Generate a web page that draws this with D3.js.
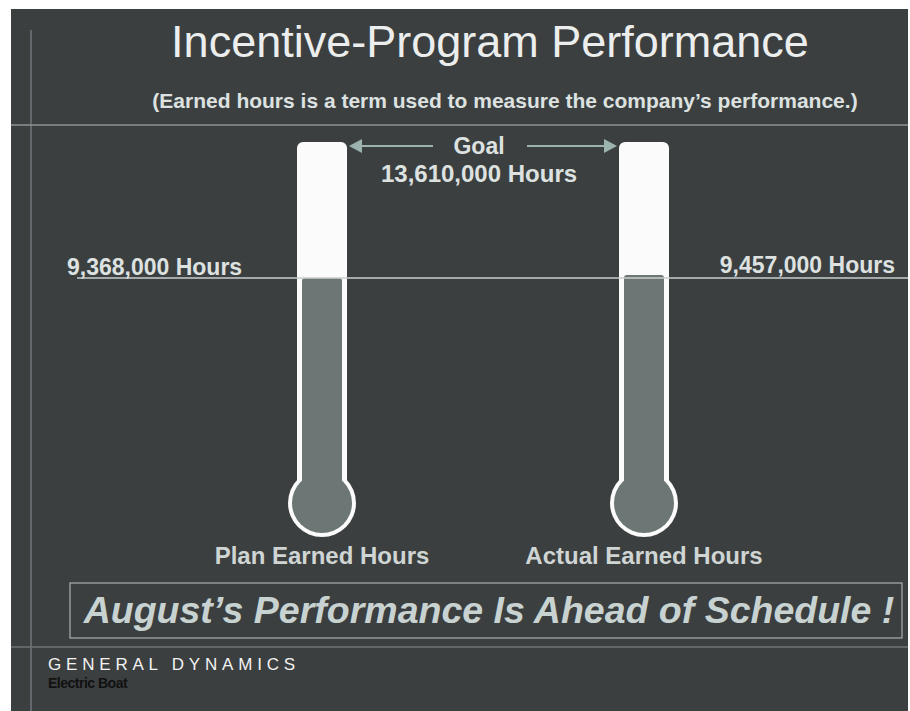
<!DOCTYPE html>
<html>
<head>
<meta charset="utf-8">
<script src="https://cdn.jsdelivr.net/npm/d3@7"></script>
<style>
  html, body { margin: 0; padding: 0; background: #fff; }
  text { font-family: "Liberation Sans", Arial, sans-serif; }
</style>
</head>
<body>
<svg id="chart" width="910" height="711"></svg>
<script>
// data
const categories = ["Plan Earned Hours", "Actual Earned Hours"];
const earnedHours = [9368000, 9457000];
const goalHours = 13610000;
const valueLabels = ["9,368,000 Hours", "9,457,000 Hours"];
const goalLabel = "13,610,000 Hours";

const svg = d3.select("#chart"),
    width = +svg.attr("width"),
    height = +svg.attr("height");

const txt = "#dde2e0";

// panel
svg.append("rect")
    .attr("x", 11).attr("y", 9)
    .attr("width", 897).attr("height", height - 9)
    .attr("fill", "#3b3f40");

// frame lines
svg.append("line").attr("x1", 31).attr("x2", 31).attr("y1", 30).attr("y2", height)
    .attr("stroke", "#70777a").attr("stroke-width", 1.5);
svg.append("line").attr("x1", 11).attr("x2", 908).attr("y1", 125).attr("y2", 125)
    .attr("stroke", "#8d9494").attr("stroke-width", 1.5);
svg.append("line").attr("x1", 11).attr("x2", 908).attr("y1", 647).attr("y2", 647)
    .attr("stroke", "#6f7677").attr("stroke-width", 1.5);

// titles
svg.append("text")
    .attr("x", 490).attr("y", 57)
    .attr("text-anchor", "middle")
    .attr("font-size", "45px")
    .attr("fill", "#eceeed")
    .text("Incentive-Program Performance");

svg.append("text")
    .attr("x", 505).attr("y", 108)
    .attr("text-anchor", "middle")
    .attr("font-size", "21px")
    .attr("font-weight", "bold")
    .attr("fill", txt)
    .text("(Earned hours is a term used to measure the company\u2019s performance.)");

// scales
const x = d3.scalePoint()
    .domain(categories)
    .range([322, 644]);

const y = d3.scaleLinear()
    .domain([0, goalHours])
    .range([578, 142]);

const tubeW = 50, bulbR = 34, bulbY = 503;

const therm = svg.selectAll(".therm")
    .data(categories.map((c, i) => ({ name: c, value: earnedHours[i] })))
    .enter().append("g")
    .attr("class", "therm")
    .attr("transform", d => "translate(" + x(d.name) + ",0)");

// white glass
therm.append("rect")
    .attr("x", -tubeW / 2).attr("y", y(goalHours))
    .attr("width", tubeW).attr("height", bulbY - y(goalHours))
    .attr("rx", 6)
    .attr("fill", "#fbfbfb");
therm.append("circle")
    .attr("cy", bulbY).attr("r", bulbR)
    .attr("fill", "#fbfbfb");

// mercury
therm.append("rect")
    .attr("x", -tubeW / 2 + 5).attr("y", d => y(d.value))
    .attr("width", tubeW - 10)
    .attr("height", d => bulbY - y(d.value))
    .attr("rx", 3)
    .attr("fill", "#6c7674");
therm.append("circle")
    .attr("cy", bulbY).attr("r", bulbR - 4)
    .attr("fill", "#6c7674");

// category labels
therm.append("text")
    .attr("y", 564)
    .attr("text-anchor", "middle")
    .attr("font-size", "24px")
    .attr("font-weight", "bold")
    .attr("fill", "#cfd5d3")
    .text(d => d.name);

// plan line
svg.append("line")
    .attr("x1", 77).attr("x2", 908)
    .attr("y1", y(earnedHours[0])).attr("y2", y(earnedHours[0]))
    .attr("stroke", "#c9cfcd").attr("stroke-width", 1.5);

svg.append("text")
    .attr("x", 67).attr("y", y(earnedHours[0]) - 3)
    .attr("font-size", "23px")
    .attr("font-weight", "bold")
    .attr("fill", txt)
    .text(valueLabels[0]);

svg.append("text")
    .attr("x", 895).attr("y", y(earnedHours[0]) - 5)
    .attr("text-anchor", "end")
    .attr("font-size", "23px")
    .attr("font-weight", "bold")
    .attr("fill", txt)
    .text(valueLabels[1]);

// goal
const goalY = y(goalHours) + 4;
svg.append("text")
    .attr("x", 479).attr("y", goalY + 8)
    .attr("text-anchor", "middle")
    .attr("font-size", "23px")
    .attr("font-weight", "bold")
    .attr("fill", txt)
    .text("Goal");
svg.append("text")
    .attr("x", 479).attr("y", goalY + 36)
    .attr("text-anchor", "middle")
    .attr("font-size", "24px")
    .attr("font-weight", "bold")
    .attr("fill", txt)
    .text(goalLabel);

const arrowCol = "#9db3b0";
const xl = x(categories[0]) + tubeW / 2 + 2,
    xr = x(categories[1]) - tubeW / 2 - 2;
svg.append("line").attr("x1", xl + 10).attr("x2", 433).attr("y1", goalY).attr("y2", goalY)
    .attr("stroke", arrowCol).attr("stroke-width", 2);
svg.append("line").attr("x1", 527).attr("x2", xr - 10).attr("y1", goalY).attr("y2", goalY)
    .attr("stroke", arrowCol).attr("stroke-width", 2);
svg.append("path")
    .attr("d", d3.line()([[xl, goalY], [xl + 13, goalY - 7], [xl + 13, goalY + 7]]) + "Z")
    .attr("fill", arrowCol);
svg.append("path")
    .attr("d", d3.line()([[xr, goalY], [xr - 13, goalY - 7], [xr - 13, goalY + 7]]) + "Z")
    .attr("fill", arrowCol);

// banner
svg.append("rect")
    .attr("x", 70).attr("y", 583)
    .attr("width", 832).attr("height", 55)
    .attr("fill", "none")
    .attr("stroke", "#a9b0af").attr("stroke-width", 1.2);
svg.append("text")
    .attr("x", 489).attr("y", 623)
    .attr("text-anchor", "middle")
    .attr("font-size", "37.5px")
    .attr("font-weight", "bold")
    .attr("font-style", "italic")
    .attr("fill", "#c8d3d1")
    .text("August\u2019s Performance Is Ahead of Schedule !");

// logo
svg.append("text")
    .attr("x", 48).attr("y", 670)
    .attr("font-size", "17px")
    .attr("letter-spacing", "4.8px")
    .attr("font-family", "'DejaVu Sans', sans-serif")
    .attr("fill", "#f2f2f2")
    .text("GENERAL DYNAMICS");
svg.append("text")
    .attr("x", 48).attr("y", 688)
    .attr("font-size", "14px")
    .attr("font-weight", "bold")
    .attr("letter-spacing", "-0.5px")
    .attr("fill", "#111")
    .text("Electric Boat");
</script>
</body>
</html>
